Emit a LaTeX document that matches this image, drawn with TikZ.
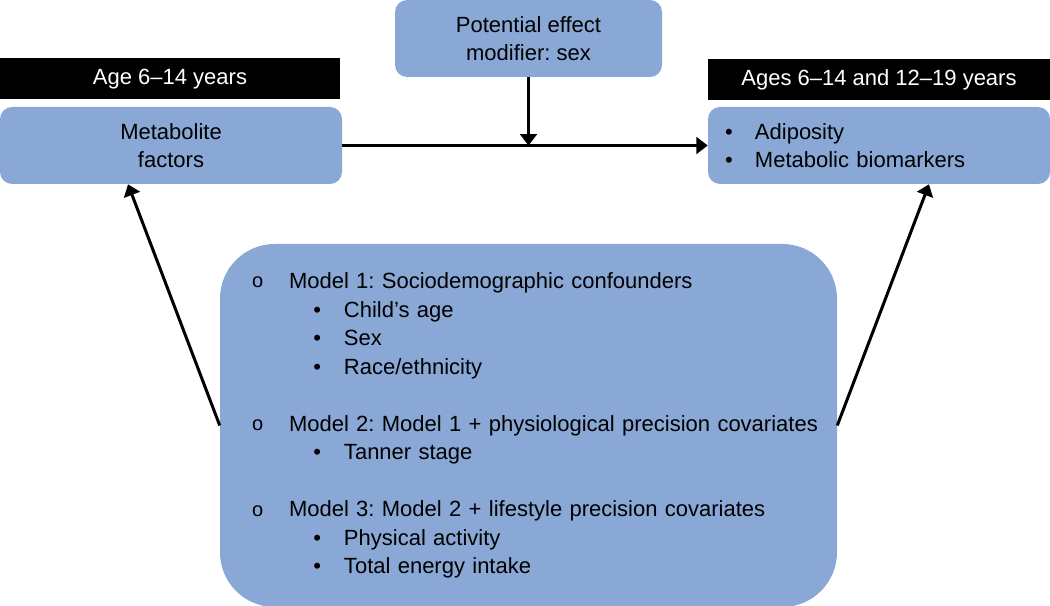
\documentclass[tikz,border=0pt]{standalone}
\usepackage{fontspec}
\setmainfont{Liberation Sans}
\usepackage{tikz}
\usetikzlibrary{arrows.meta}
\definecolor{boxblue}{RGB}{138,168,214}
\newcommand{\listdot}{\makebox[22.5pt][l]{•}}
\newcommand{\modelline}[1]{\makebox[\linewidth][l]{\makebox[27.75pt][l]{\raisebox{0.4pt}{\fontsize{15pt}{15pt}\selectfont o}}#1}}
\newcommand{\sublistdot}{\hspace*{46pt}\makebox[23pt][l]{•}}
\frenchspacing

\begin{document}
\begin{tikzpicture}[x=0.75pt,y=0.75pt,yscale=-1,xscale=1,
    every node/.style={font=\fontsize{16.5pt}{20.5pt}\selectfont},
    bluebox/.style={fill=boxblue, rounded corners=9pt, inner sep=0pt},
    agebar/.style={fill=black, text=white, minimum height=30.75pt, inner sep=0pt},
    arrowline/.style={line width=2.25pt, -{Triangle[length=8.5pt,width=12.5pt]}}]
    \useasboundingbox (0,0) rectangle (1050,606);

    %Shape: Rounded Rect [id:modifier]
    \node [bluebox, minimum width=200.25pt, minimum height=57.75pt, align=center] (modifier) at (528.5,38.5) {Potential effect\\modifier: sex};
    %Shape: Rectangle [id:exposureage]
    \node [agebar, minimum width=255pt] (exposureage) at (170,79) {Age 6–14 years};
    %Shape: Rounded Rect [id:factors]
    \node [bluebox, minimum width=256.5pt, minimum height=57.75pt, align=center] (factors) at (171,145.5) {Metabolite\\factors};
    %Shape: Rectangle [id:outcomeage]
    \node [agebar, minimum width=256.5pt] (outcomeage) at (879,79.5) {Ages 6–14 and 12–19 years};
    %Shape: Rounded Rect [id:outcome]
    \node [bluebox, minimum width=256.5pt, minimum height=57.75pt, text width=231pt, inner xsep=12.75pt, align=left] (outcome) at (879,145.5) {\listdot Adiposity\\\listdot Metabolic biomarkers};
    %Shape: Rounded Rect [id:covars]
    \node [bluebox, rounded corners=41pt, minimum width=462.75pt, minimum height=272.25pt, text width=414.75pt, inner xsep=24pt, align=left, font=\fontsize{16.5pt}{21.4pt}\selectfont] (covars) at (528.5,425.5) {%
        \modelline{Model 1: Sociodemographic confounders}\\
        \sublistdot Child’s age\\
        \sublistdot Sex\\
        \sublistdot Race/ethnicity\\[21.4pt]
        \modelline{Model 2: Model 1 + physiological precision covariates}\\
        \sublistdot Tanner stage\\[21.4pt]
        \modelline{Model 3: Model 2 + lifestyle precision covariates}\\
        \sublistdot Physical activity\\
        \sublistdot Total energy intake};

    %Straight Lines [id:exposure]
    \draw [arrowline] (factors.east) -- (outcome.west);
    %Straight Lines [id:modification]
    \draw [arrowline] (modifier.south) -- (modifier.south |- factors.east);
    %Straight Lines [id:adjustleft]
    \draw [arrowline] (covars.west) -- ([xshift=-32.25pt]factors.south);
    %Straight Lines [id:adjustright]
    \draw [arrowline] (covars.east) -- ([xshift=37.5pt]outcome.south);
\end{tikzpicture}
\end{document}
